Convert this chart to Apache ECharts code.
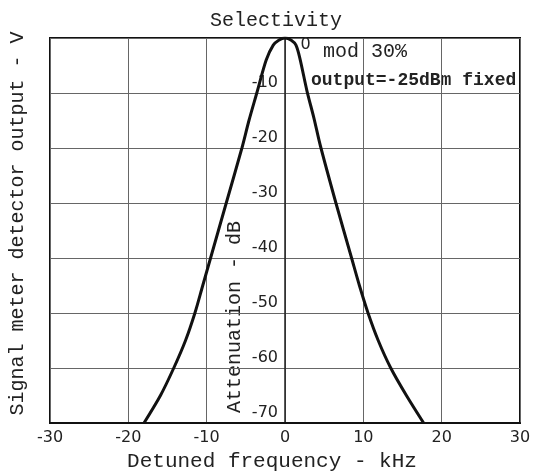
<!DOCTYPE html>
<html>
<head>
<meta charset="utf-8">
<script src="https://cdn.jsdelivr.net/npm/echarts@6/dist/echarts.min.js"></script>
<style>
  html, body { margin: 0; padding: 0; background: #fff; }
  #main { width: 541px; height: 472px; }
</style>
</head>
<body>
<div id="main"></div>
<script>
// detuned frequency (kHz) and attenuation (dB)
var freqKHz = [-18.0, -15.9, -14.2, -12.7, -11.5, -10.5, -9.5, -7.5, -5.5, -4.6, -3.6, -2.4, -1.5, -0.8, 0,
               0.8, 1.4, 1.9, 2.8, 3.7, 4.5, 6.5, 8.5, 9.5, 10.6, 11.9, 13.5, 15.5, 17.7];
var attenDb = [-70, -65, -60, -55, -50, -45, -40, -30, -20, -15, -10, -4, -1.3, -0.4, 0,
               -0.4, -1.3, -3.7, -9.6, -14.6, -19.5, -30, -40, -45, -50, -55, -60, -65, -70];
var xTicks = [-30, -20, -10, 0, 10, 20, 30];
var yTicks = [0, -10, -20, -30, -40, -50, -60, -70];

var mono = 'Liberation Mono';
var sans = 'DejaVu Sans';

var gridLeft = 50, gridRight = 21;
var plotWidth = 541 - gridLeft - gridRight;

var curve = freqKHz.map(function (f, i) { return [f, attenDb[i]]; });

var chart = echarts.init(document.getElementById('main'));

var option = {
    backgroundColor: '#fff',
    animation: false,
    title: {
        text: 'Selectivity',
        left: 205,
        top: 6,
        textStyle: { fontFamily: mono, fontWeight: 'normal', fontSize: 20, color: '#222' }
    },
    grid: {
        left: gridLeft, right: gridRight, top: 38, bottom: 49,
        outerBoundsMode: 'none',
        show: true, borderColor: '#111', borderWidth: 2
    },
    xAxis: {
        type: 'value',
        min: xTicks[0],
        max: xTicks[xTicks.length - 1],
        interval: 10,
        name: 'Detuned frequency - kHz',
        nameLocation: 'middle',
        nameGap: 22,
        nameTextStyle: { fontFamily: mono, fontSize: 21, color: '#222', padding: [0, 26, 0, 0] },
        axisLine: { onZero: false, lineStyle: { color: '#111', width: 2 } },
        axisTick: { show: false },
        axisLabel: { fontFamily: sans, fontSize: 16, color: '#222', margin: 7 },
        splitLine: { lineStyle: { color: '#666', width: 1 } }
    },
    yAxis: [{
        // attenuation scale drawn along the 0 kHz line
        type: 'value',
        min: yTicks[yTicks.length - 1],
        max: yTicks[0],
        interval: 10,
        offset: -plotWidth / 2,
        axisLine: { show: true, onZero: false, lineStyle: { color: '#222', width: 1.5 } },
        axisTick: { show: false },
        axisLabel: {
            fontFamily: sans, fontSize: 16, color: '#222', margin: 7,
            verticalAlign: 'bottom', padding: [0, 0, 2, 0],
            formatter: function (v) { return v === 0 ? '' : String(v); }
        },
        splitLine: { lineStyle: { color: '#666', width: 1 } }
    }, {
        type: 'value',
        position: 'left',
        min: yTicks[yTicks.length - 1],
        max: yTicks[0],
        interval: 10,
        name: 'Signal meter detector output - V',
        nameLocation: 'middle',
        nameGap: 22,
        nameTextStyle: { fontFamily: mono, fontSize: 20, color: '#222', padding: [0, 0, 0, 14] },
        axisLine: { show: false, onZero: false },
        axisTick: { show: false },
        axisLabel: { show: false },
        splitLine: { show: false }
    }],
    series: [{
        type: 'line',
        data: curve,
        smooth: 0.3,
        showSymbol: false,
        lineStyle: { color: '#111', width: 3 },
        markPoint: {
            symbol: 'circle',
            symbolSize: 1,
            itemStyle: { color: 'rgba(0,0,0,0)' },
            label: {
                show: true, position: 'right', offset: [10, 7],
                fontFamily: sans, fontSize: 16, color: '#222',
                formatter: '0'
            },
            data: [{ coord: [0, 0] }]
        }
    }],
    graphic: [{
        type: 'text',
        left: 323, top: 42,
        style: { text: 'mod 30%', font: '20px "Liberation Mono"', fill: '#222' }
    }, {
        type: 'text',
        left: 311, top: 71,
        style: { text: 'output=-25dBm fixed', font: 'bold 18px "Liberation Mono"', fill: '#222' }
    }, {
        type: 'text',
        x: 235, y: 317,
        rotation: Math.PI / 2,
        style: {
            text: 'Attenuation - dB', font: '20px "Liberation Mono"', fill: '#222',
            align: 'center', verticalAlign: 'middle'
        }
    }]
};

chart.setOption(option);
</script>
</body>
</html>
